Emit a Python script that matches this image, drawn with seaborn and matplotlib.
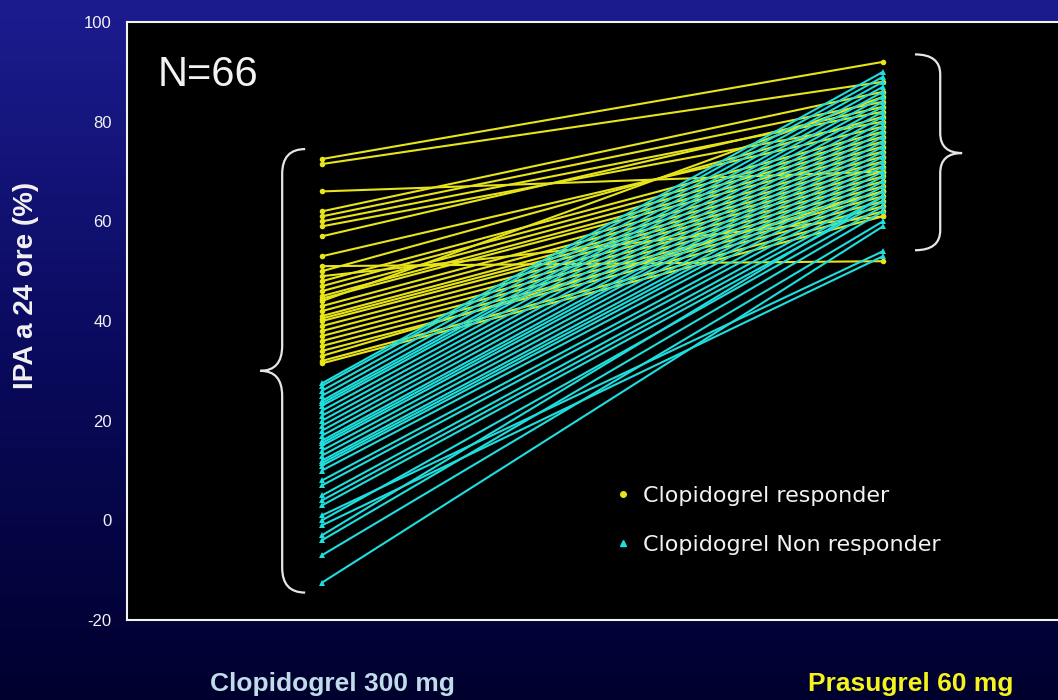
import numpy as np
import pandas as pd
import matplotlib
matplotlib.use("Agg")
import matplotlib.pyplot as plt
from matplotlib.path import Path
from matplotlib.patches import PathPatch
from matplotlib.colors import LinearSegmentedColormap
from matplotlib.lines import Line2D
import seaborn as sns

# IPA at 24 h (%) per patient
resp_clopi = [72.5, 71.5, 66, 62, 61, 60, 59, 57, 53, 51, 50, 49, 48, 47, 46, 45,
              44.5, 44, 43, 42, 41, 40.5, 40, 39, 38, 37, 36, 35, 34, 33, 32, 31.5]
resp_prasu = [92, 88, 70, 86, 84, 82, 80, 83, 79, 52, 81, 61, 78, 77, 76, 75,
              74, 85, 73, 72, 71, 70, 69, 68, 67, 66, 65, 64, 63, 66, 62, 61]
nonresp_clopi = [27.5, 27, 26, 25, 24, 23.5, 23, 22, 21, 20, 19, 18, 17, 16, 15.5, 15, 14,
                 13, 12, 11.5, 11, 10, 8, 7, 5, 4, 3, 1, 0, -1, -3, -4, -7, -12.5]
nonresp_prasu = [90, 89, 88, 87, 86, 85, 84, 83, 82, 81, 80, 79, 78, 77, 76, 75, 74,
                 73, 72, 71, 70, 69, 68, 67, 66, 65, 64, 54, 63, 53, 65, 62, 60, 59]
groups = ["Clopidogrel responder", "Clopidogrel Non responder"]
treatments = ["Clopidogrel 300 mg", "Prasugrel 60 mg"]

rows = []
pid = 0
for g, left, right in [(groups[0], resp_clopi, resp_prasu),
                       (groups[1], nonresp_clopi, nonresp_prasu)]:
    for a, b in zip(left, right):
        rows.append({"pid": pid, "group": g, "pos": 0, "ipa": a})
        rows.append({"pid": pid, "group": g, "pos": 1, "ipa": b})
        pid += 1
df = pd.DataFrame(rows)

yellow = "#e8e41a"
cyan = "#1fdede"
white = "#f2f2f2"

sns.set_style("dark")
plt.rcParams["font.family"] = ["Liberation Sans", "DejaVu Sans"]
plt.rcParams["axes.unicode_minus"] = False

fig = plt.figure(figsize=(10.58, 7), dpi=100)

# background gradient
bg = fig.add_axes([0, 0, 1, 1], zorder=-10)
cmap = LinearSegmentedColormap.from_list("bg", ["#1c1c90", "#0a0a5e", "#00002e"])
grad = np.linspace(0, 1, 256).reshape(-1, 1)
bg.imshow(grad, aspect="auto", cmap=cmap, extent=[0, 1, 0, 1])
bg.set_axis_off()

ax = fig.add_axes([127 / 1058, 80 / 700, 1 - 127 / 1058, 598 / 700])
ax.set_facecolor("black")

sns.lineplot(data=df, x="pos", y="ipa", units="pid", estimator=None,
             hue="group", style="group", palette={groups[0]: yellow, groups[1]: cyan},
             markers={groups[0]: "o", groups[1]: "^"}, dashes=False,
             markersize=4, markeredgewidth=0, linewidth=1.5, legend=False, ax=ax)

ax.set_xlim((127 - 322) / 561, (1058 - 322) / 561)
ax.set_ylim(-20, 100)
ax.set_yticks(range(-20, 101, 20))
ax.set_xticks([])
ax.set_xlabel("")
ax.set_ylabel("")
ax.grid(False)
for s in ["left", "bottom", "top"]:
    ax.spines[s].set_visible(True)
    ax.spines[s].set_color(white)
    ax.spines[s].set_linewidth(1.5)
ax.spines["right"].set_visible(False)
ax.tick_params(axis="y", colors=white, length=5, width=1.2, direction="out",
               labelsize=12, pad=6)


def brace(xs, xt, xe, ytop, ymid, ybot, r):
    verts = [(xe, ytop), (xs, ytop), (xs, ytop - r),
             (xs, ymid + r), (xs, ymid), (xt, ymid),
             (xs, ymid), (xs, ymid - r),
             (xs, ybot + r), (xs, ybot), (xe, ybot)]
    codes = [Path.MOVETO, Path.CURVE3, Path.CURVE3,
             Path.LINETO, Path.CURVE3, Path.CURVE3,
             Path.CURVE3, Path.CURVE3,
             Path.LINETO, Path.CURVE3, Path.CURVE3]
    ax.add_patch(PathPatch(Path(verts, codes), fill=False, edgecolor="#e6e6e6",
                           lw=1.6, clip_on=False))


brace(-0.071, -0.11, -0.03, 74.5, 30, -14.5, 5)
brace(1.102, 1.141, 1.057, 93.5, 73.7, 54.2, 4)

# N label
ax.text((158 - 127) / 931, 1 - (75 - 22) / 598, "N=66",
        transform=ax.transAxes, color=white, fontsize=30, va="center", ha="left")

# legend
handles = [Line2D([], [], color=yellow, marker="o", linestyle="", markersize=4),
           Line2D([], [], color=cyan, marker="^", linestyle="", markersize=4)]
leg = ax.legend(handles, groups, loc="upper left",
                bbox_to_anchor=((592 - 127) / 931, (620 - 466) / 598),
                frameon=False, prop={"family": "DejaVu Sans", "size": 16},
                labelspacing=1.3, handletextpad=0.4, handlelength=1.0)
for t in leg.get_texts():
    t.set_color(white)

# y label
fig.text(26 / 1058, 1 - 285 / 700, "IPA a 24 ore (%)", rotation=90, color=white,
         fontsize=20, fontweight="bold", ha="center", va="center")

# treatment labels
fig.text(332 / 1058, 1 - 684 / 700, treatments[0], color="#bfdce8", fontsize=19,
         fontweight="bold", ha="center", va="center")
fig.text(911 / 1058, 1 - 684 / 700, treatments[1], color="#f4f41c", fontsize=19,
         fontweight="bold", ha="center", va="center")

fig.savefig("out.png", dpi=100)
